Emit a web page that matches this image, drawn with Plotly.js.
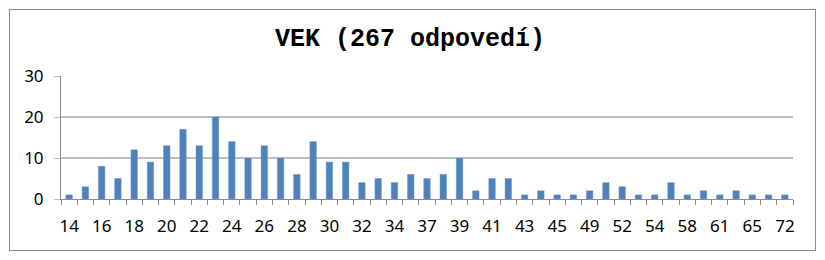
<!DOCTYPE html>
<html>
<head>
<meta charset="utf-8">
<script src="https://cdn.plot.ly/plotly-3.0.1.min.js"></script>
<style>
  body { margin: 0; background: #fff; }
  #wrap { position: relative; width: 825px; height: 260px; }
  #chart { position: absolute; left: 0; top: 0; width: 825px; height: 260px; }
  #frame { position: absolute; left: 9px; top: 9px; width: 805px; height: 240px; border: 1px solid #8c8c8c; pointer-events: none; }
</style>
</head>
<body>
<div id="wrap"><div id="chart"></div><div id="frame"></div></div>
<script>
// Age categories (every other one is labelled on the axis)
const ages = ['14','15','16','17','18','19','20','21','22','23','24','25','26','27','28','29','30','31','32','33','34','35','37','38','39','40','41','42','43','44','45','47','49','50','52','53','54','56','58','60','61','63','65','68','72'];
const counts = [1,3,8,5,12,9,13,17,13,20,14,10,13,10,6,14,9,9,4,5,4,6,5,6,10,2,5,5,1,2,1,1,2,4,3,1,1,4,1,2,1,2,1,1,1];
const tickLabels = ages.map((a, i) => i % 2 === 0 ? a : '');

const trace = {
  type: 'bar',
  x: ages,
  y: counts,
  marker: { color: '#4F81BD', line: { color: '#7199CC', width: 0.5 } },
  hoverinfo: 'x+y'
};

const layout = {
  width: 825,
  height: 260,
  margin: { l: 61, r: 32, t: 76, b: 61, pad: 0 },
  paper_bgcolor: '#ffffff',
  plot_bgcolor: '#ffffff',
  bargap: 0.6,
  showlegend: false,
  title: {
    text: '<b>VEK (267 odpovedí)</b>',
    font: { family: 'Liberation Mono, Courier New, monospace', size: 25, color: '#000' },
    x: 0.497, xanchor: 'center',
    y: 0.855, yanchor: 'middle'
  },
  xaxis: {
    type: 'category',
    tickmode: 'array',
    tickvals: ages,
    ticktext: tickLabels,
    tickson: 'boundaries',
    ticks: 'outside',
    ticklen: 5,
    tickcolor: '#8c8c8c',
    tickwidth: 1,
    showline: true,
    linecolor: '#8c8c8c',
    linewidth: 1,
    showgrid: false,
    tickangle: 0,
    ticklabelstandoff: 12,
    tickfont: { family: 'Noto Sans, Open Sans, sans-serif', size: 17, color: '#000' }
  },
  yaxis: {
    range: [0, 30],
    tickvals: [0, 10, 20, 30],
    ticks: 'outside',
    ticklen: 6,
    tickcolor: '#b8b8b8',
    showline: true,
    linecolor: '#8c8c8c',
    linewidth: 1,
    showgrid: true,
    gridcolor: '#bfbfbf',
    gridwidth: 1.5,
    zeroline: false,
    ticklabelstandoff: 7,
    tickfont: { family: 'Noto Sans, Open Sans, sans-serif', size: 17, color: '#000' }
  }
};

Plotly.newPlot('chart', [trace], layout, { displayModeBar: false, staticPlot: true });
</script>
</body>
</html>
